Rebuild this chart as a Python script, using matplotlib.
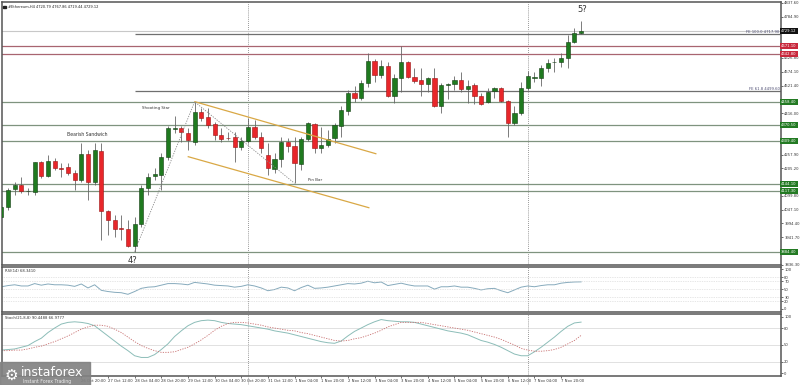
import matplotlib
matplotlib.use('Agg')
import matplotlib.pyplot as plt
from matplotlib.lines import Line2D
from matplotlib.patches import Rectangle

# ---------------- data ----------------
first_index = -37  # bar index of first candle (0 = 31 Oct 00:00, H4 bars)
opens = [4020.3, 4057.4, 4126.1, 4141.4, 4118.5, 4115.8, 4228.1, 4176.9, 4234.2, 4206.3,
         4208.9, 4186.1, 4160.5, 4259.8, 4151.7, 4272.4, 4042.1, 4007.7, 3975.3, 3973.4,
         3908.4, 3991.3, 4131.1, 4175.8, 4179.6, 4249.5, 4355.3, 4359.1, 4338.8, 4306.8,
         4421.3, 4399.9, 4374.4, 4332.3, 4322.1, 4323.6, 4285.4, 4309.4, 4364.0, 4324.7,
         4256.0, 4201.4, 4239.5, 4304.5, 4291.5, 4221.6, 4316.0, 4374.4, 4281.6, 4294.2,
         4319.8, 4366.7, 4425.2, 4491.6, 4474.8, 4532.1, 4615.0, 4561.5, 4597.0, 4481.3,
         4548.9, 4610.0, 4555.0, 4542.4, 4526.0, 4548.9, 4443.1, 4524.4, 4527.1, 4542.4,
         4506.9, 4522.2, 4482.4, 4459.5, 4501.5, 4510.7, 4462.2, 4379.3, 4417.5, 4510.7,
         4551.2, 4548.9, 4587.1, 4610.0, 4612.3, 4625.2, 4686.4, 4720.79]
highs = [4068.8, 4130.0, 4154.0, 4173.1, 4128.8, 4230.4, 4233.1, 4256.0, 4243.4, 4224.3,
         4226.6, 4198.7, 4300.7, 4275.1, 4300.7, 4300.7, 4045.9, 4026.8, 4026.8, 4007.7,
         4020.3, 4141.4, 4188.4, 4205.2, 4262.5, 4366.7, 4404.9, 4366.7, 4359.1, 4459.5,
         4434.3, 4434.3, 4383.1, 4359.1, 4345.0, 4345.0, 4324.7, 4396.1, 4389.6, 4343.8,
         4301.8, 4263.6, 4325.9, 4319.8, 4325.9, 4325.9, 4383.1, 4378.2, 4362.9, 4351.4,
         4378.2, 4443.1, 4504.2, 4519.5, 4542.4, 4644.4, 4621.5, 4618.8, 4612.3, 4565.3,
         4672.2, 4616.1, 4587.1, 4587.1, 4552.7, 4587.1, 4529.8, 4532.1, 4557.7, 4574.1,
         4542.4, 4529.8, 4491.6, 4510.7, 4514.5, 4514.5, 4466.0, 4443.1, 4535.9, 4577.9,
         4574.1, 4599.7, 4621.5, 4625.2, 4644.4, 4714.3, 4739.8, 4767.86]
lows = [3958.1, 4045.9, 4103.2, 4109.7, 4103.2, 4103.2, 4167.0, 4173.1, 4198.7, 4173.1,
        4179.6, 4122.3, 4154.0, 4084.1, 4141.4, 3931.4, 3950.5, 3944.0, 3931.4, 3905.8,
        3886.7, 3982.2, 4103.2, 4160.5, 4122.3, 4236.9, 4339.9, 4306.8, 4275.1, 4294.2,
        4385.8, 4359.1, 4313.3, 4305.0, 4313.3, 4230.4, 4275.1, 4301.8, 4317.1, 4263.6,
        4179.6, 4187.2, 4211.3, 4268.6, 4147.9, 4198.7, 4309.4, 4262.5, 4262.5, 4286.5,
        4301.8, 4325.9, 4408.7, 4459.5, 4466.0, 4516.8, 4535.9, 4550.0, 4478.6, 4453.4,
        4497.7, 4548.9, 4529.8, 4481.3, 4497.7, 4440.4, 4415.2, 4468.7, 4504.2, 4497.7,
        4453.4, 4450.7, 4446.9, 4453.4, 4472.5, 4459.5, 4325.9, 4370.5, 4408.7, 4504.2,
        4535.9, 4519.5, 4574.1, 4574.1, 4593.2, 4587.1, 4682.6, 4719.44]
closes = [4058.5, 4122.3, 4141.4, 4118.5, 4120.4, 4228.1, 4176.9, 4234.2, 4205.2, 4204.4,
          4186.1, 4160.5, 4258.6, 4151.7, 4275.1, 4042.1, 4007.7, 3973.4, 3973.4, 3908.4,
          3991.3, 4131.1, 4170.8, 4182.3, 4249.5, 4359.1, 4357.9, 4345.7, 4313.3, 4421.3,
          4396.1, 4370.5, 4332.3, 4316.0, 4319.8, 4285.4, 4309.4, 4364.0, 4325.9, 4282.7,
          4205.2, 4239.5, 4304.5, 4291.5, 4224.3, 4316.0, 4377.0, 4281.6, 4294.2, 4316.0,
          4370.5, 4427.8, 4491.6, 4474.8, 4532.1, 4615.0, 4561.5, 4597.0, 4481.3, 4548.9,
          4610.0, 4555.0, 4538.6, 4526.0, 4548.9, 4443.1, 4523.3, 4526.0, 4542.4, 4506.9,
          4519.5, 4482.4, 4450.7, 4497.7, 4510.7, 4462.2, 4379.3, 4417.5, 4510.7, 4557.7,
          4552.7, 4587.1, 4608.5, 4612.3, 4625.2, 4686.4, 4720.7, 4729.12]

rsi = [56, 59, 61, 58, 58, 64, 60, 63, 61, 61, 60, 57, 63, 53, 61, 47, 44, 42, 41, 37,
       44, 52, 55, 56, 60, 64, 64, 63, 61, 67, 65, 63, 60, 59, 58, 55, 57, 61, 58, 53,
       46, 49, 55, 53, 46, 54, 60, 52, 53, 55, 58, 61, 64, 63, 65, 70, 66, 68, 59, 62,
       65, 61, 58, 58, 58, 50, 56, 56, 58, 55, 55, 52, 48, 51, 52, 46, 41, 48, 55, 58,
       56, 59, 61, 61, 65, 67, 68, 68.34]
stoch_main = [41, 42, 43, 46, 49, 56, 62, 72, 80, 87, 90, 91, 90, 88, 84, 75, 66, 57, 48, 40,
              31, 28, 28, 33, 42, 52, 65, 75, 84, 90, 93, 94, 93, 90, 88, 87, 86, 84, 82, 80,
              78, 75, 73, 71, 68, 65, 62, 59, 56, 54, 53, 57, 66, 74, 80, 86, 91, 95, 93, 92,
              91, 91, 90, 87, 84, 81, 78, 75, 73, 71, 68, 63, 58, 55, 51, 46, 40, 34, 31, 31,
              38, 46, 55, 64, 74, 83, 89, 90.45]
stoch_signal = [40, 40, 41, 41, 43, 46, 48, 52, 56, 61, 66, 72, 78, 82, 85, 85, 83, 78, 72, 64,
                56, 49, 44, 40, 37, 37, 38, 42, 46, 52, 59, 67, 76, 83, 88, 90, 90, 89, 87, 85,
                82, 80, 78, 76, 75, 72, 70, 67, 64, 61, 58, 57, 58, 61, 63, 67, 71, 76, 82, 86,
                90, 90, 90, 90, 88, 86, 84, 82, 80, 78, 76, 73, 70, 67, 64, 60, 55, 50, 44, 41,
                39, 39, 40, 42, 46, 52, 58, 66.98]

time_tick_index = [-25, -21, -17, -13, -9, -5, -1, 3, 7, 11, 15, 19, 23, 27, 31, 35, 39, 43, 47]
time_tick_labels = ['26 Oct 20:00', '27 Oct 12:00', '28 Oct 04:00', '28 Oct 20:00',
                    '29 Oct 12:00', '30 Oct 04:00', '30 Oct 20:00', '31 Oct 12:00', '1 Nov 04:00',
                    '1 Nov 20:00', '2 Nov 12:00', '3 Nov 04:00', '3 Nov 20:00', '4 Nov 12:00',
                    '5 Nov 04:00', '5 Nov 20:00', '6 Nov 12:00', '7 Nov 04:00', '7 Nov 20:00']
price_ticks = [4837.60, 4784.90, 4626.80, 4574.10, 4521.40, 4416.00,
               4257.90, 4205.20, 4099.80, 4047.10, 3994.40, 3941.70, 3836.30]
week_separators = [0, 42]

green_levels = [4458.4, 4370.5, 4309.4, 4144.1, 4117.3, 3884.4]
red_levels = [4671.1, 4642.8]
fe_levels = [4717.90, 4500.4]
fe_labels = ['FE 100.0 4717.90', 'FE 61.8 4499.60']
fe_start = -17
bid_price = 4729.12

channel_upper = ([-7.95, 19.2], [4459.5, 4260.9])
channel_lower = ([-8.95, 18.15], [4249.5, 4054.7])
wave_path = ([-17, -8, 7], [3886.7, 4459.5, 4147.9])

rsi_levels = [80, 70, 50, 30, 20]
rsi_ticks = [100, 80, 70, 50, 30, 20, 0]
stoch_levels = [80, 50, 20]
stoch_ticks = [100, 80, 50, 20, 0]

# ---------------- figure ----------------
W, H = 800, 385
fig = plt.figure(figsize=(8, 3.85), dpi=100)
fig.patch.set_facecolor('white')

def ax_px(x0, y0, x1, y1):
    return fig.add_axes([x0 / W, 1 - y1 / H, (x1 - x0) / W, (y1 - y0) / H])

ax = ax_px(2, 2, 781, 265)
ax_r = ax_px(2, 267, 781, 312)
ax_s = ax_px(2, 314, 781, 376)

xmin, xmax = -36.9, 80.0
FS = 2.7
for a in (ax, ax_r, ax_s):
    a.set_xlim(xmin, xmax)
    for sp in a.spines.values():
        sp.set_color('#555555')
        sp.set_linewidth(1.1)
    a.yaxis.tick_right()
    a.tick_params(axis='y', labelsize=FS, length=1.5, width=0.5, pad=0.8, colors='#333333')
    for s in week_separators:
        a.axvline(s, color='#777777', lw=0.6, ls=(0, (1, 1.5)), zorder=1)

ax.set_ylim(3835.9, 4840.3)
ax.set_xticks([])
ax_r.set_xticks([])
ax.set_yticks(price_ticks)
ax.set_yticklabels(['%.2f' % v for v in price_ticks])

n = len(opens)
idx = [first_index + i for i in range(n)]

# level lines
for lv in green_levels:
    ax.axhline(lv, color='#7f937f', lw=0.9, zorder=1)
for lv in red_levels:
    ax.axhline(lv, color='#a86570', lw=0.9, zorder=1)
ax.axhline(bid_price, color='#c8c8c8', lw=0.8, zorder=1)
for lv, lb in zip(fe_levels, fe_labels):
    ax.hlines(lv, fe_start, xmax, color='#6f6f6f', lw=0.9, zorder=1)
    ax.text(0.998, lv, lb, transform=ax.get_yaxis_transform(), ha='right', va='bottom',
            fontsize=FS, color='#4a4a70', zorder=5)

# candles
bull, bear = '#1f7a1f', '#e8262a'
for x, o, h, l, c in zip(idx, opens, highs, lows, closes):
    col = bull if c >= o else bear
    ecol = '#143d14' if c >= o else '#9a1414'
    ax.vlines(x, l, h, color='#666666', lw=0.6, zorder=3)
    ax.bar(x, max(abs(c - o), 1.5), bottom=min(o, c), width=0.62, color=col,
           edgecolor=ecol, linewidth=0.4, zorder=4)

# channel and wave
ax.plot(*channel_upper, color='#d9a845', lw=0.9, zorder=5)
ax.plot(*channel_lower, color='#d9a845', lw=0.9, zorder=5)
ax.plot(*wave_path, color='#888888', lw=0.6, ls=(0, (1.5, 1.5)), zorder=5)

# annotations
ax.text(-15.9, 4435.5, 'Shooting Star', fontsize=2.9, color='#333333', va='center', ha='left')
ax.text(-27.15, 4332.4, 'Bearish Sandwich', fontsize=3.3, color='#333333', va='center', ha='left')
ax.text(9.0, 4160.5, 'Pin Bar', fontsize=2.9, color='#333333', va='center', ha='left')
ax.text(-17.3, 3851.2, '4?', fontsize=6, color='#333333', va='center', ha='center')
ax.text(50.1, 4813.5, '5?', fontsize=6, color='#333333', va='center', ha='center')

# price boxes
def box(a, y, txt, fc):
    a.text(1.0, y, txt, transform=a.get_yaxis_transform(), ha='left', va='center',
           fontsize=FS, color='white', clip_on=False, zorder=30,
           bbox=dict(boxstyle='square,pad=0.3', fc=fc, ec='none'))

for lv in green_levels:
    box(ax, lv, '%.2f' % lv, '#237a23')
for lv in red_levels:
    box(ax, lv, '%.2f' % lv, '#c8283c')
box(ax, bid_price, '%.2f' % bid_price, '#111111')

# RSI
ax_r.set_ylim(-7.6, 105.8)
ax_r.plot(idx, rsi, color='#86aabc', lw=0.7)
for lv in rsi_levels:
    ax_r.axhline(lv, color='#cfcfcf', lw=0.5, ls=(0, (1, 1.5)))
ax_r.set_yticks(rsi_ticks)
ax_r.set_yticklabels([str(v) for v in rsi_ticks])
ax_r.text(0.004, 0.92, 'RSI(14) 68.3410', transform=ax_r.transAxes, fontsize=FS,
          color='#333333', va='center')

# Stochastic
ax_s.set_ylim(-4.8, 104.8)
for lv in stoch_levels:
    ax_s.axhline(lv, color='#d5d5d5', lw=0.5)
ax_s.plot(idx, stoch_main, color='#8cbdb8', lw=0.7)
ax_s.plot(idx, stoch_signal, color='#c87070', lw=0.6, ls=(0, (1.5, 1.5)))
ax_s.set_yticks(stoch_ticks)
ax_s.set_yticklabels([str(v) for v in stoch_ticks])
ax_s.text(0.004, 0.93, 'Stoch(21,8,8) 90.4488 66.9777', transform=ax_s.transAxes,
          fontsize=FS, color='#333333', va='center')

ax_s.set_xticks(time_tick_index)
ax_s.set_xticklabels(time_tick_labels)
ax_s.tick_params(axis='x', labelsize=FS, length=1.5, width=0.5, pad=1.0, colors='#333333')
for t in ax_s.get_xticklabels():
    t.set_ha('left')

# separator continuation into time axis
for s in week_separators:
    xf = (2 + (s - xmin) / (xmax - xmin) * 779) / W
    fig.add_artist(Line2D([xf, xf], [0, 1 - 376 / H], color='#777777', lw=0.6,
                          ls=(0, (1, 1.5))))

# title
fig.add_artist(Rectangle((3 / W, 1 - 8 / H), 2.5 / W, 2.5 / H, color='#222222',
                         transform=fig.transFigure))
fig.text(8 / W, 1 - 6.5 / H, '#Ethereum,H4 4720.79 4767.86 4719.44 4729.12', fontsize=2.6,
         color='#222222', va='center')

# logo
fig.add_artist(Rectangle((0, 0), 90 / W, 23 / H, color='#828282', alpha=0.92,
                         transform=fig.transFigure, zorder=50))
fig.text(11 / W, 10 / H, '\u2699', fontsize=11, color='white', ha='center', va='center',
         zorder=51)
fig.text(21 / W, 13 / H, 'instaforex', fontsize=9, color='white', ha='left', va='center',
         zorder=51)
fig.text(23 / W, 3.5 / H, 'Instant Forex Trading', fontsize=3.3, color='#eeeeee', ha='left',
         va='center', zorder=51)

fig.savefig('out.png', dpi=100, facecolor='white')
